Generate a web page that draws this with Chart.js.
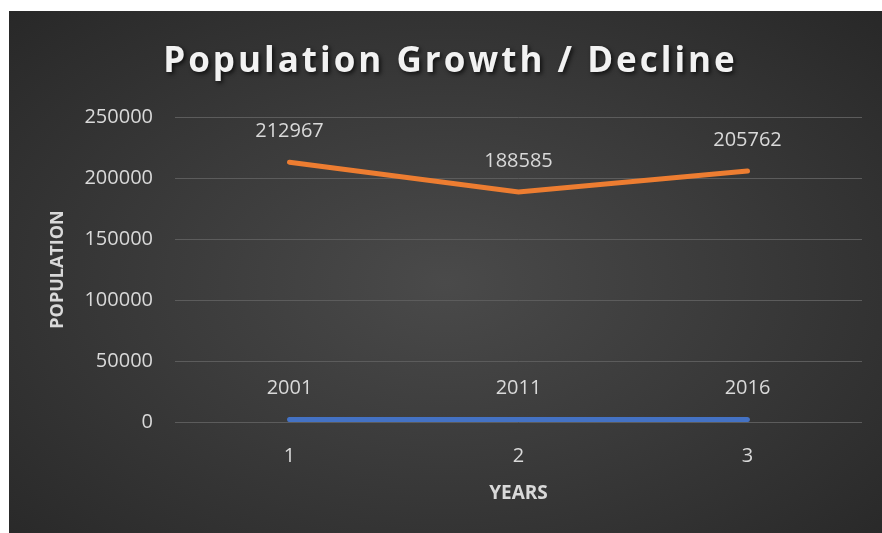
<!DOCTYPE html>
<html>
<head>
<meta charset="utf-8">
<script src="https://cdn.jsdelivr.net/npm/chart.js@4.4.1/dist/chart.umd.min.js"></script>
<style>
  html, body { margin: 0; padding: 0; background: #ffffff; }
  #wrap {
    position: absolute; left: 9px; top: 11px; width: 873px; height: 522px;
    background: radial-gradient(ellipse at 50% 52%, #4a4a4a 0%, #3b3b3b 45%, #282828 100%);
  }
</style>
</head>
<body>
<div id="wrap"><canvas id="popChart"></canvas></div>
<script>
// chart data
const categories = ['1', '2', '3'];
const years = [2001, 2011, 2016];
const population = [212967, 188585, 205762];
const yTicks = [0, 50000, 100000, 150000, 200000, 250000];

const FONT = '"Open Sans", "Noto Sans", sans-serif';
const TEXT = '#d9d9d9';

// Title drawn by hand so we get letter spacing + shadow
const titlePlugin = {
    id: 'fancyTitle',
    afterDraw(chart) {
        const ctx = chart.ctx;
        ctx.save();
        ctx.font = 'bold 35px ' + FONT;
        ctx.letterSpacing = '3px';
        ctx.textAlign = 'center';
        ctx.textBaseline = 'middle';
        ctx.shadowColor = 'rgba(0,0,0,0.7)';
        ctx.shadowOffsetX = 2;
        ctx.shadowOffsetY = 2;
        ctx.shadowBlur = 4;
        ctx.fillStyle = '#f2f2f2';
        ctx.fillText('Population Growth / Decline', chart.width / 2 + 5, 51);
        ctx.restore();
    }
};

// Value labels above each point
const labelPlugin = {
    id: 'valueLabels',
    afterDatasetsDraw(chart) {
        const ctx = chart.ctx;
        ctx.save();
        ctx.font = '20px ' + FONT;
        ctx.fillStyle = TEXT;
        ctx.textAlign = 'center';
        ctx.textBaseline = 'middle';
        chart.data.datasets.forEach((ds, i) => {
            chart.getDatasetMeta(i).data.forEach((pt, j) => {
                ctx.fillText(String(ds.data[j]), pt.x, pt.y - 31);
            });
        });
        ctx.restore();
    }
};

new Chart(document.getElementById('popChart'), {
    type: 'line',
    data: {
        labels: categories,
        datasets: [{
            label: 'Year',
            data: years,
            borderColor: '#4472c4',
            borderWidth: 5,
            borderCapStyle: 'round',
            pointRadius: 0
        }, {
            label: 'Population',
            data: population,
            borderColor: '#ed7d31',
            borderWidth: 5,
            borderCapStyle: 'round',
            pointRadius: 0
        }]
    },
    options: {
        responsive: true,
        maintainAspectRatio: false,
        animation: false,
        layout: { padding: { top: 106, right: 20, left: 0, bottom: 0 } },
        plugins: {
            legend: { display: false },
            tooltip: { enabled: false },
            title: { display: false }
        },
        scales: {
            x: {
                offset: true,
                grid: { display: false },
                border: { display: false },
                ticks: { color: TEXT, font: { family: FONT, size: 20 }, padding: 14 },
                title: {
                    display: true, text: 'YEARS', color: TEXT,
                    font: { family: FONT, size: 19, weight: 'bold' },
                    padding: { top: 0, bottom: 28 }
                },
                afterFit: s => { s.height = 111; }
            },
            y: {
                min: 0,
                max: 250000,
                afterBuildTicks: s => { s.ticks = yTicks.map(v => ({ value: v })); },
                grid: { color: '#5c5c5c', lineWidth: 1, drawTicks: false },
                border: { display: false },
                ticks: {
                    color: TEXT, font: { family: FONT, size: 20 }, padding: 22,
                    callback: v => String(v)
                },
                title: {
                    display: true, text: 'POPULATION', color: TEXT,
                    font: { family: FONT, size: 18, weight: 'bold' },
                    padding: { top: 38, bottom: 0 }
                },
                afterFit: s => { s.width = 166; }
            }
        }
    },
    plugins: [titlePlugin, labelPlugin]
});
</script>
</body>
</html>
